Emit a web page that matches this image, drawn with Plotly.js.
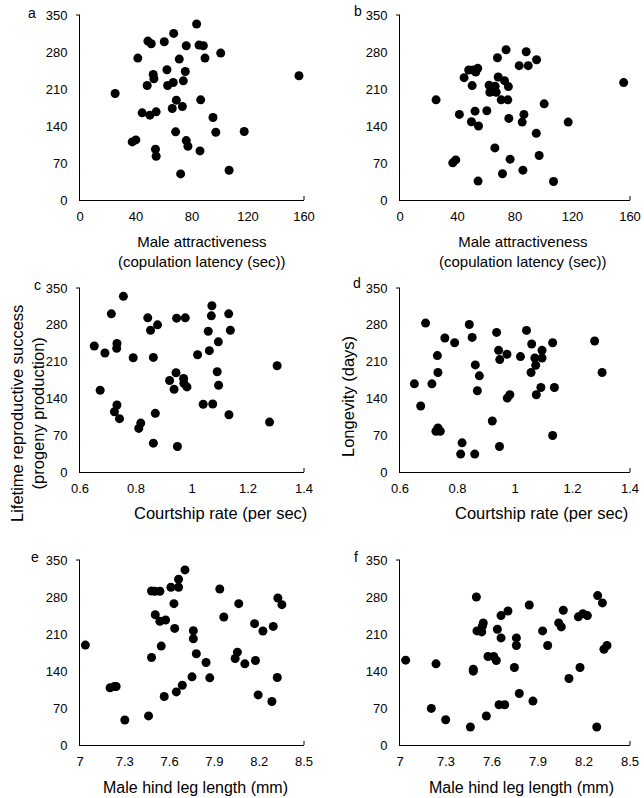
<!DOCTYPE html>
<html>
<head>
<meta charset="utf-8">
<script src="https://cdn.plot.ly/plotly-3.0.1.min.js"></script>
<style>
  body { margin: 0; background: #fff; }
  #chart { width: 644px; height: 798px; }
</style>
</head>
<body>
<div id="chart"></div>
<script>
// a: 교미 지연시간 vs 평생 번식 성공
const latencyA = [25.1, 41.3, 48.5, 50.9, 60.2, 66.9, 83.3, 75.9, 85.0, 88.1, 100.5, 70.9, 89.3, 62.1,
  75.2, 52.3, 52.8, 73.8, 66.6, 62.6, 48.0, 156.4, 68.8, 86.2, 65.9, 73.1, 44.4, 49.9, 54.4, 95.0,
  68.3, 97.0, 117.3, 37.3, 39.9, 75.9, 77.1, 53.9, 54.4, 85.7, 71.9, 106.5];
const progenyA = [201.5, 268.5, 300.7, 295.6, 299.4, 315.2, 332.9, 291.8, 293.1, 291.8, 277.9, 266.6, 268.5, 246.4,
  243.2, 237.5, 229.3, 225.5, 222.4, 216.7, 216.7, 235.0, 188.9, 189.5, 173.1, 176.9, 164.9, 160.5, 166.8, 156.0,
  128.9, 128.2, 129.5, 109.9, 113.7, 112.4, 101.7, 96.0, 82.8, 92.9, 49.3, 56.2];

// b: 교미 지연시간 vs 수명
const latencyB = [25.1, 36.7, 38.8, 41.3, 44.6, 47.8, 50.9, 52.7, 54.1, 50.2, 49.7, 52.2, 54.6, 54.3,
  60.4, 62.0, 62.5, 66.2, 66.9, 68.3, 67.8, 73.8, 72.7, 75.4, 70.4, 75.0, 75.7, 66.0, 76.6, 71.3,
  82.9, 87.8, 89.2, 95.0, 86.2, 85.0, 100.3, 94.8, 96.8, 85.5, 106.8, 117.0, 155.6];
const longevityB = [189.5, 70.3, 75.9, 161.9, 231.5, 245.9, 245.9, 242.2, 249.1, 216.4, 148.1, 168.1, 139.9, 35.8,
  168.8, 217.1, 203.9, 215.2, 203.9, 232.7, 269.1, 284.2, 225.8, 214.6, 189.5, 189.5, 154.3, 98.5, 77.2, 49.6,
  254.1, 280.4, 254.1, 265.4, 161.9, 147.4, 181.9, 126.1, 84.1, 56.5, 35.1, 147.4, 222.1];

// c: 구애 빈도 vs 평생 번식 성공
const courtshipC = [0.651, 0.672, 0.689, 0.712, 0.732, 0.731, 0.755, 0.723, 0.732, 0.741, 0.790, 0.810, 0.817,
  0.842, 0.852, 0.877, 0.862, 0.869, 0.862, 0.920, 0.936, 0.943, 0.945, 0.976, 0.970, 0.971, 0.982, 0.948,
  1.020, 1.040, 1.074, 1.058, 1.062, 1.069, 1.071, 1.094, 1.090, 1.095, 1.131, 1.137, 1.132, 1.277, 1.304];
const progenyC = [239.7, 155.5, 226.3, 300.9, 244.4, 235.2, 334.1, 114.7, 127.5, 101.4, 217.4, 82.9, 93.1,
  293.3, 269.7, 279.9, 218.0, 111.6, 54.8, 174.0, 157.5, 188.7, 292.6, 293.3, 177.9, 168.9, 161.9, 48.5,
  223.1, 128.8, 129.4, 267.8, 230.8, 297.1, 316.2, 247.6, 190.6, 165.1, 300.9, 269.7, 109.0, 95.0, 202.1];

// d: 구애 빈도 vs 수명
const courtshipD = [0.650, 0.672, 0.689, 0.711, 0.730, 0.732, 0.725, 0.732, 0.740, 0.756, 0.790, 0.811, 0.816,
  0.841, 0.851, 0.862, 0.876, 0.869, 0.860, 0.921, 0.936, 0.943, 0.947, 0.946, 0.972, 0.973, 0.982,
  1.019, 1.040, 1.058, 1.069, 1.072, 1.056, 1.074, 1.094, 1.094, 1.090, 1.131, 1.137, 1.131, 1.277, 1.303];
const longevityD = [167.7, 125.5, 283.2, 167.7, 221.4, 189.2, 77.6, 83.9, 77.6, 254.8, 245.9, 34.1, 55.5,
  280.6, 256.0, 203.7, 182.9, 154.5, 34.1, 97.1, 265.5, 231.4, 213.8, 48.6, 223.9, 140.6, 146.9,
  219.5, 269.3, 243.4, 216.9, 203.1, 189.2, 146.9, 216.9, 231.4, 160.8, 245.9, 160.8, 69.4, 249.1, 189.2];

// e: 뒷다리 길이 vs 평생 번식 성공
const legE = [7.036, 7.201, 7.231, 7.242, 7.300, 7.459, 7.479, 7.479, 7.501, 7.535, 7.504, 7.535, 7.573, 7.544,
  7.564, 7.609, 7.629, 7.634, 7.660, 7.660, 7.703, 7.645, 7.685, 7.759, 7.759, 7.779, 7.750, 7.844, 7.869,
  7.936, 7.963, 8.039, 8.054, 8.063, 8.104, 8.169, 8.175, 8.225, 8.193, 8.285, 8.294, 8.325, 8.352, 8.321];
const progenyE = [189.0, 108.1, 110.6, 110.6, 47.4, 55.0, 165.6, 291.4, 290.8, 290.8, 246.5, 233.9, 236.4, 187.1,
  91.7, 298.4, 267.4, 220.6, 298.4, 313.5, 331.2, 100.5, 113.1, 216.2, 201.0, 172.6, 128.9, 156.1, 127.1,
  295.2, 242.1, 163.7, 175.7, 267.4, 153.6, 229.5, 159.9, 215.6, 94.8, 82.2, 224.4, 278.1, 265.5, 127.7];

// f: 뒷다리 길이 vs 수명
const legF = [7.037, 7.235, 7.204, 7.298, 7.459, 7.478, 7.478, 7.498, 7.502, 7.533, 7.537, 7.543, 7.574, 7.563,
  7.611, 7.628, 7.635, 7.659, 7.659, 7.646, 7.683, 7.704, 7.759, 7.759, 7.746, 7.778, 7.867, 7.843,
  7.930, 7.963, 8.035, 8.052, 8.065, 8.102, 8.163, 8.193, 8.222, 8.174, 8.289, 8.320, 8.330, 8.350, 8.283];
const longevityF = [160.5, 153.6, 69.2, 47.8, 34.0, 143.5, 139.7, 280.0, 215.9, 214.0, 224.7, 231.0, 167.4, 54.8,
  167.4, 159.8, 219.0, 244.8, 202.6, 76.1, 76.1, 253.6, 202.6, 188.2, 146.6, 97.5, 83.1, 264.9,
  215.9, 188.2, 231.0, 223.4, 254.9, 125.9, 242.5, 248.5, 244.8, 146.6, 282.7, 268.8, 181.2, 188.2, 34.0];

// 축 범위 / 눈금
const yRange = [0, 350];
const yStep = 70;
const latencyRange = [0, 160], latencyStep = 40;
const courtshipRange = [0.6, 1.4], courtshipStep = 0.2;
const legRange = [7, 8.5], legStep = 0.3;

const W = 644, H = 798;
const FONT = 'Liberation Sans, Arial, sans-serif';
const px = x => x / W;          // 픽셀 -> paper 좌표
const py = y => 1 - y / H;

// 패널 위치 (픽셀)
const cols = [[80, 304], [400, 630]];
const rows = [[15, 200], [288, 472], [560, 745]];

const panels = [
  { x: latencyA, y: progenyA, range: latencyRange, step: latencyStep },
  { x: latencyB, y: longevityB, range: latencyRange, step: latencyStep },
  { x: courtshipC, y: progenyC, range: courtshipRange, step: courtshipStep },
  { x: courtshipD, y: longevityD, range: courtshipRange, step: courtshipStep },
  { x: legE, y: progenyE, range: legRange, step: legStep },
  { x: legF, y: longevityF, range: legRange, step: legStep }
];

const traces = [];
const layout = {
  width: W,
  height: H,
  margin: { t: 0, l: 0, r: 0, b: 0 },
  paper_bgcolor: '#fff',
  plot_bgcolor: 'rgba(0,0,0,0)',
  showlegend: false,
  font: { family: FONT, size: 13, color: '#000' },
  annotations: [],
  shapes: []
};

panels.forEach((p, i) => {
  const n = i + 1;
  const sfx = n === 1 ? '' : String(n);
  const col = cols[i % 2];
  const row = rows[Math.floor(i / 2)];
  traces.push({
    x: p.x,
    y: p.y,
    xaxis: 'x' + sfx,
    yaxis: 'y' + sfx,
    type: 'scatter',
    mode: 'markers',
    marker: { size: 9, color: '#000' },
    cliponaxis: false,
    hoverinfo: 'skip'
  });
  const common = {
    showgrid: false,
    zeroline: false,
    showline: true,
    linecolor: '#000',
    linewidth: 1,
    ticks: '',
    fixedrange: true,
    tickfont: { family: FONT, size: 13, color: '#000' }
  };
  layout['xaxis' + sfx] = Object.assign({}, common, {
    domain: [px(col[0]), px(col[1])],
    anchor: 'y' + sfx,
    range: p.range,
    tick0: p.range[0],
    dtick: p.step,
    ticklabelstandoff: 4
  });
  layout['yaxis' + sfx] = Object.assign({}, common, {
    domain: [py(row[1]), py(row[0])],
    anchor: 'x' + sfx,
    range: yRange,
    tick0: 0,
    dtick: yStep,
    ticklabelstandoff: 9
  });
  // 축 끝 눈금 (x축 오른쪽 끝 위로, y축 위쪽 끝 왼쪽으로)
  layout.shapes.push({
    type: 'line', xref: 'x' + sfx + ' domain', yref: 'paper',
    x0: 1, x1: 1, y0: py(row[1]), y1: py(row[1] - 4),
    line: { color: '#000', width: 1 }
  });
  layout.shapes.push({
    type: 'line', xref: 'paper', yref: 'y' + sfx + ' domain',
    x0: px(col[0] - 4), x1: px(col[0]), y0: 1, y1: 1,
    line: { color: '#000', width: 1 }
  });
});

// 패널 라벨
const letters = [
  ['a', 32, 13], ['b', 358, 11], ['c', 37, 285],
  ['d', 357, 283], ['e', 35, 557], ['f', 356, 557]
];
letters.forEach(([t, x, y]) => {
  layout.annotations.push({
    text: t, xref: 'paper', yref: 'paper', x: px(x), y: py(y),
    xanchor: 'center', yanchor: 'middle', showarrow: false,
    font: { family: FONT, size: 14, color: '#000' }
  });
});

// 축 제목 (텍스트, x, y, 글자 크기)
const xTitles = [
  ['Male attractiveness<br>(copulation latency (sec))', 202, 251, 15],
  ['Male attractiveness<br>(copulation latency (sec))', 523, 251, 15],
  ['Courtship rate (per sec)', 220, 513, 16.5],
  ['Courtship rate (per sec)', 541, 513, 16.5],
  ['Male hind leg length (mm)', 195, 787, 16],
  ['Male hind leg length (mm)', 521, 787, 16]
];
xTitles.forEach(([t, x, y, s]) => {
  layout.annotations.push({
    text: t, xref: 'paper', yref: 'paper', x: px(x), y: py(y),
    xanchor: 'center', yanchor: 'middle', showarrow: false,
    font: { family: FONT, size: s, color: '#000' }
  });
});

const yTitles = [
  ['Lifetime reproductive success<br>(progeny production)', 27, 414],
  ['Longevity (days)', 348, 397]
];
yTitles.forEach(([t, x, y]) => {
  layout.annotations.push({
    text: t, xref: 'paper', yref: 'paper', x: px(x), y: py(y),
    xanchor: 'center', yanchor: 'middle', showarrow: false, textangle: -90,
    font: { family: FONT, size: 16.5, color: '#000' }
  });
});

Plotly.newPlot('chart', traces, layout, {
  staticPlot: true,
  displayModeBar: false
});
</script>
</body>
</html>
